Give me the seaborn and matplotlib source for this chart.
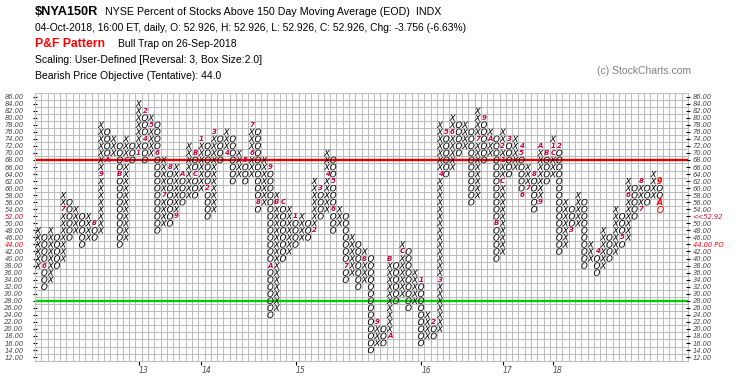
import numpy as np
import pandas as pd
import matplotlib
matplotlib.use('Agg')
import matplotlib.pyplot as plt
import seaborn as sns

plt.rcParams['font.family'] = ['Liberation Sans', 'DejaVu Sans']

# P&F columns (box size 2, 3 box reversal); even index = X column, odd = O column
col_low = [38, 32, 34, 38, 40, 46, 48, 44, 46, 46,
           48, 68, 70, 44, 46, 68, 70, 68, 70, 48,
           50, 50, 52, 56, 58, 58, 60, 52, 54, 68,
           70, 62, 64, 62, 64, 54, 56, 24, 26, 40,
           42, 44, 46, 46, 48, 52, 54, 48, 50, 34,
           36, 32, 34, 14, 16, 16, 18, 28, 30, 26,
           28, 16, 18, 18, 20, 64, 66, 70, 72, 56,
           58, 68, 70, 40, 42, 64, 66, 58, 60, 54,
           56, 62, 64, 42, 44, 48, 50, 38, 40, 36,
           38, 40, 42, 44, 46, 52, 54, 56, 58, 54]
col_high = [48, 46, 48, 46, 58, 56, 54, 52, 52, 50,
            78, 76, 74, 72, 74, 72, 84, 82, 80, 78,
            68, 66, 66, 64, 72, 70, 74, 72, 76, 74,
            76, 74, 70, 68, 78, 76, 68, 66, 58, 56,
            54, 52, 52, 50, 62, 60, 70, 68, 54, 52,
            46, 44, 42, 40, 22, 20, 40, 38, 44, 42,
            36, 34, 24, 22, 78, 76, 80, 78, 78, 76,
            82, 80, 76, 74, 76, 74, 74, 72, 66, 64,
            72, 70, 74, 72, 56, 54, 58, 56, 44, 42,
            48, 46, 54, 52, 62, 60, 62, 60, 64, 62]

# month markers (1-9, A=Oct, B=Nov, C=Dec) that replace a box
month_col = [1, 4, 9, 10, 11, 13, 14, 16, 17, 17, 18, 19, 20, 21, 22, 23, 25, 25, 26, 27,
             28, 30, 33, 34, 34, 35, 37, 37, 38, 39, 41, 44, 45, 46, 47, 47, 49, 52, 54, 56,
             56, 58, 61, 63, 64, 64, 65, 66, 70, 71, 72, 73, 74, 74, 74, 75, 77, 77, 77, 78,
             79, 80, 80, 81, 82, 82, 83, 85, 89, 93, 94, 96, 96, 99, 99]
month_val = [38, 54, 50, 64, 68, 64, 68, 70, 82, 74, 78, 70, 58, 66, 52, 64, 70, 64, 74, 60,
             76, 70, 68, 70, 78, 56, 66, 38, 56, 56, 52, 48, 60, 64, 62, 54, 38, 40, 22, 18,
             40, 42, 34, 22, 34, 64, 76, 76, 74, 80, 74, 50, 62, 68, 72, 74, 72, 70, 58, 60,
             64, 56, 72, 70, 70, 72, 72, 48, 42, 46, 58, 54, 62, 62, 56]
month_txt = ['6', '7', '8', '9', 'A', 'B', 'C', '1', '2', '4', '5', '6', '7', '8', '9', 'A', 'B', 'C', '1', '2',
             '3', '4', '5', '6', '7', '8', '9', 'A', 'B', 'C', '1', '2', '3', '4', '5', '6', '7', '8', '9', 'A',
             'B', 'C', '1', '2', '3', '4', '5', '6', '7', '9', 'A', 'B', 'C', '1', '2', '3', '4', '5', '6', '7',
             '8', '9', 'A', 'B', 'C', '1', '2', '3', '4', '5', '6', '7', '8', '9', 'A']

year_col = [16, 26, 41, 61, 74, 82]
year_txt = ['13', '14', '15', '16', '17', '18']

live_col = 99          # current column, boxes of this month drawn in red
live_vals = [54]
box = 2
n_cols = 104
price_rows = list(range(12, 87, box))

# long table of boxes
rows = []
marked = set(zip(month_col, month_val))
for i, (lo, hi) in enumerate(zip(col_low, col_high)):
    kind = 'X' if i % 2 == 0 else 'O'
    for v in range(lo, hi + 1, box):
        if (i, v) in marked:
            continue
        live = i == live_col and v in live_vals
        rows.append((i + 0.5, v, kind, live))
df = pd.DataFrame(rows, columns=['col', 'value', 'kind', 'live'])

fig = plt.figure(figsize=(7.45, 3.83), dpi=100)
W, H = 745, 383
ax = fig.add_axes([35 / W, (H - 360.6) / H, 653 / W, (360.6 - 93.1) / H])
ax.set_xlim(0, n_cols)
ax.set_ylim(11, 87)

# grid
ax.set_xticks(np.arange(0, n_cols + 1), minor=True)
ax.set_yticks(np.arange(11, 88, box), minor=True)
ax.grid(which='minor', color='#bdbdbd', linewidth=0.75)
ax.tick_params(which='minor', length=0)
ax.set_axisbelow(True)
for s in ax.spines.values():
    s.set_color('#bdbdbd')
    s.set_linewidth(0.75)

ax.axhline(68, color='#e60000', linewidth=1.7, zorder=2)
ax.axhline(28, color='#00d000', linewidth=1.7, zorder=2)

marks = {'X': '$X$', 'O': '$O$'}
sns.scatterplot(data=df[~df['live']], x='col', y='value', style='kind', markers=marks,
                color='black', s=22, linewidth=0, legend=False, ax=ax, zorder=3)
sns.scatterplot(data=df[df['live']], x='col', y='value', style='kind', markers=marks,
                color='#ff0000', s=26, linewidth=0, legend=False, ax=ax, zorder=3)

for c, v, t in zip(month_col, month_val, month_txt):
    red = c == live_col
    ax.text(c + 0.5, v, t, color='#ff0000' if red else '#c8003c', fontsize=5.6 if red else 5,
            fontstyle='italic', fontweight='bold', ha='center', va='center',
            family='DejaVu Sans', zorder=4)

ax.set_xlabel('')
ax.set_ylabel('')

# left price scale
ax.set_yticks(price_rows)
ax.set_yticklabels([f'{v:.2f}' for v in price_rows])
ax.tick_params(axis='y', which='major', direction='inout', length=3.5, width=0.8,
               color='black', labelsize=4.9, labelcolor='#4a4a4a', pad=6.5)
for v, lab in zip(price_rows, ax.get_yticklabels()):
    lab.set_fontstyle('italic')
    lab.set_family('DejaVu Sans')
    if v == 52:
        lab.set_color('#d0103a')
    if v == 44:
        lab.set_color('#ff0000')

# year axis
ax.set_xticks([c + 0.5 for c in year_col])
ax.set_xticklabels(year_txt)
ax.tick_params(axis='x', which='major', direction='out', length=3, width=0.8,
               color='black', labelsize=5.5, labelcolor='#4a4a4a', pad=1)
for lab in ax.get_xticklabels():
    lab.set_fontstyle('italic')
    lab.set_family('DejaVu Sans')
    lab.set_ha('left')

# right price scale
ax2 = ax.twinx()
ax2.set_ylim(11, 87)
ax2.set_yticks(price_rows)
right_txt = ['<<52.92' if v == 52 else ('44.00 PO' if v == 44 else f'{v:.2f}') for v in price_rows]
ax2.set_yticklabels(right_txt)
ax2.tick_params(axis='y', direction='inout', length=3.5, width=0.8, color='black',
                labelsize=4.9, labelcolor='#4a4a4a', pad=1.5)
for v, lab in zip(price_rows, ax2.get_yticklabels()):
    lab.set_fontstyle('italic')
    lab.set_family('DejaVu Sans')
    if v == 52:
        lab.set_color('#d0103a')
    if v == 44:
        lab.set_color('#ff0000')
for s in ax2.spines.values():
    s.set_visible(False)

# header
def px(x, y):
    return x / W, 1 - y / H

fig.text(*px(35, 12), r'\$NYA150R', fontsize=9.2, fontweight='bold', va='center')
fig.text(*px(105, 12), 'NYSE Percent of Stocks Above 150 Day Moving Average (EOD)  INDX',
         fontsize=7.7, va='center')
fig.text(*px(35, 28), '04-Oct-2018, 16:00 ET, daily, O: 52.926, H: 52.926, L: 52.926, C: 52.926, '
         'Chg: -3.756 (-6.63%)', fontsize=7.4, va='center')
fig.text(*px(35, 44), 'P&F Pattern', fontsize=8.8, fontweight='bold', color='#ff0000', va='center')
fig.text(*px(118, 44), 'Bull Trap on 26-Sep-2018', fontsize=7.5, va='center')
fig.text(*px(35, 60), 'Scaling: User-Defined [Reversal: 3, Box Size:2.0]', fontsize=7.5, va='center')
fig.text(*px(35, 76), 'Bearish Price Objective (Tentative): 44.0', fontsize=7.5, va='center')
fig.text(*px(597, 71), '(c) StockCharts.com', fontsize=7.5, color='#808080', va='center')

fig.savefig('out.png', dpi=100, facecolor='white')
